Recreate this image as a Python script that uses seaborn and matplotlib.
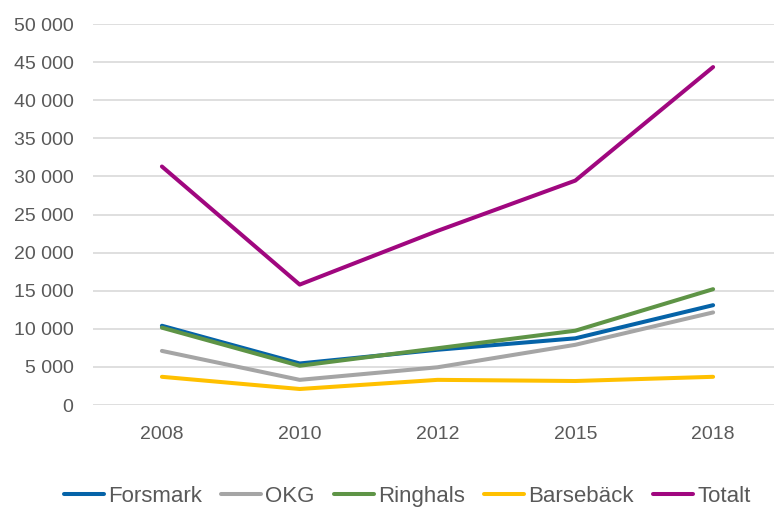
import numpy as np
import pandas as pd
import matplotlib.pyplot as plt
import seaborn as sns
from matplotlib.lines import Line2D
from matplotlib.ticker import FuncFormatter

# === DATA ===
years = ["2008", "2010", "2012", "2015", "2018"]
forsmark = [10400, 5450, 7250, 8750, 13100]
okg = [7100, 3300, 4950, 7900, 12150]
ringhals = [10150, 5150, 7450, 9750, 15200]
barseback = [3700, 2100, 3300, 3150, 3700]
totalt = [31300, 15800, 22850, 29450, 44350]

series_names = ["Forsmark", "OKG", "Ringhals", "Barsebäck", "Totalt"]
series_values = [forsmark, okg, ringhals, barseback, totalt]
colors = ["#0563A8", "#A5A5A5", "#5E9446", "#FFC000", "#A0077F"]

df = pd.DataFrame({
    "year": years * len(series_names),
    "value": sum(series_values, []),
    "series": [n for n in series_names for _ in years],
})

# === Plotting ===
sns.set_theme(style="white")
plt.rcParams["font.family"] = ["Liberation Sans", "DejaVu Sans"]
text_color = "#595959"

fig = plt.figure(figsize=(7.74, 5.09), dpi=100)
ax = fig.add_axes([93 / 774, 104 / 509, 689 / 774, 381 / 509])

sns.lineplot(
    data=df, x="year", y="value", hue="series",
    hue_order=series_names, palette=colors,
    linewidth=2.9, sort=False, legend=False, ax=ax,
)

ax.set_xlim(-0.5, len(years) - 0.5)
ax.set_ylim(0, 50000)
ax.set_yticks(np.arange(0, 50001, 5000))
ax.yaxis.set_major_formatter(FuncFormatter(lambda v, p: f"{int(v):,}".replace(",", " ")))
ax.grid(axis="y", color="#D9D9D9", linewidth=1.2)
ax.set_axisbelow(True)
for s in ax.spines.values():
    s.set_visible(False)
ax.tick_params(axis="y", length=0, pad=14, labelsize=14, labelcolor=text_color)
ax.tick_params(axis="x", length=0, pad=15, labelsize=14, labelcolor=text_color)
ax.set_xlabel("")
ax.set_ylabel("")

handles = [Line2D([0], [0], color=c, linewidth=2.9) for c in colors]
fig.legend(
    handles, series_names, loc="center", ncol=5, frameon=False,
    bbox_to_anchor=(407 / 774, 0.025), bbox_transform=fig.transFigure,
    fontsize=16, handlelength=1.8, handletextpad=0.2, columnspacing=0.85,
    labelcolor=text_color,
)

fig.savefig("out.png", dpi=100)
